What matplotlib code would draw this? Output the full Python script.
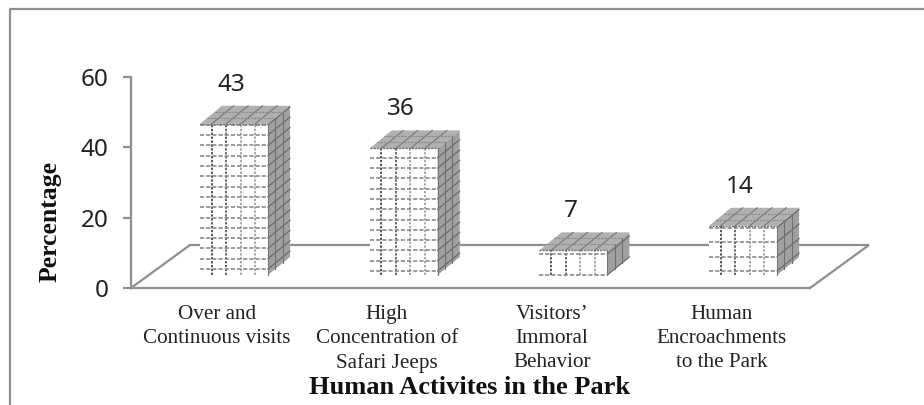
"""Human activities in the park: pseudo-3D column chart."""

import matplotlib

matplotlib.use("Agg")
import matplotlib.pyplot as plt
import numpy as np

categories = [
    "Over and\nContinuous visits",
    "High\nConcentration of\nSafari Jeeps",
    "Visitors’\nImmoral\nBehavior",
    "Human\nEncroachments\nto the Park",
]
values = [43, 36, 7, 14]
y_ticks = [0, 20, 40, 60]
x_title = "Human Activites in the Park"
y_title = "Percentage"

W, H = 924, 405
AX_L, AX_R, AX_B, AX_T = 131, 810, 288, 77
STEP = 169.7
CENTER0 = 234
BAR_W = 68
GRAY = "#8f8f8f"

PX_X = 1 / STEP
PX_Y = 60 / (AX_B - AX_T)

fig = plt.figure(figsize=(W / 100, H / 100), dpi=100)
ax = fig.add_axes([AX_L / W, 1 - AX_B / H, (AX_R - AX_L) / W, (AX_B - AX_T) / H])
ax.set_xlim((AX_L - CENTER0) * PX_X, (AX_R - CENTER0) * PX_X)
ax.set_ylim(0, 60)

for side in ["top", "right"]:
    ax.spines[side].set_visible(False)
for side in ["left", "bottom"]:
    ax.spines[side].set_color(GRAY)
    ax.spines[side].set_linewidth(1.6)

# floor of the 3D box
x0, x1 = ax.get_xlim()
fdx, fdy = 59 * PX_X, 43 * PX_Y
ax.plot([x0, x0 + fdx, x1 + fdx, x1], [0, fdy, fdy, 0], color=GRAY, lw=1.6,
        clip_on=False, zorder=1, solid_joinstyle="miter")

# columns
xs = np.arange(len(values))
base = 13 * PX_Y
bw = BAR_W * PX_X
dx, dy = 22 * PX_X, 18 * PX_Y
row_gaps = [10.3, 10.3, 21, 14.5]
col_colors = ["#555555", "#666666", "#a8a8a8", "#a8a8a8"]
row_starts = [6, 4, 0, 4]

ax.bar(xs, values, bw, bottom=base, color="white", linewidth=0, zorder=3)

for x, v, gap, start in zip(xs, values, row_gaps, row_starts):
    left, right = x - bw / 2, x + bw / 2
    bottom, top = base, base + v
    ax.fill([right, right + dx, right + dx, right],
            [bottom, bottom + dy, top + dy, top],
            color="#a0a0a0", lw=0, zorder=3, clip_on=False)
    ax.fill([left, left + dx, right + dx, right],
            [top, top + dy, top + dy, top],
            color="#b0b0b0", lw=0, zorder=3, clip_on=False)

    # front face pattern
    for i, c in enumerate(col_colors):
        cx = left + (11.7 + 14.5 * i) * PX_X
        ax.plot([cx, cx], [bottom, top], color=c, lw=1.4, ls=(0, (1.2, 0.8)), zorder=4)
        ax.plot([cx, cx + dx], [top, top + dy], color="#777777", lw=0.8, zorder=4,
                clip_on=False)
    rows = np.arange(start, v / PX_Y, gap) * PX_Y + bottom
    for ry in rows:
        ax.plot([left, right], [ry, ry], color="#8a8a8a", lw=1.2,
                ls=(0, (2.5, 1.2)), zorder=4)
        ax.plot([right, right + dx], [ry, ry + dy], color="#666666", lw=0.8, zorder=4,
                clip_on=False)
    for f in [1 / 3, 2 / 3]:
        ax.plot([right + f * dx] * 2, [bottom + f * dy, top + f * dy], color="#707070",
                lw=0.8, zorder=4, clip_on=False)
    for f in [1 / 3, 2 / 3]:
        ax.plot([left + f * dx, right + f * dx], [top + f * dy] * 2, color="#8a8a8a",
                lw=0.8, ls=(0, (2, 1)), zorder=4, clip_on=False)
    ax.plot([left, right], [top, top], color="#6f6f6f", lw=1, ls=(0, (1.5, 0.8)), zorder=5)
    ax.plot([right, right], [bottom, top], color="#777777", lw=0.8, zorder=5)

    ax.annotate(str(v), (x, top + dy), xytext=(-3, 9), textcoords="offset pixels",
                ha="center", va="bottom", fontsize=17.5, family="Noto Sans",
                color="#222222", annotation_clip=False)

ax.set_yticks(y_ticks)
ax.set_yticklabels([str(t) for t in y_ticks], family="Noto Sans", fontsize=17.5, color="#222222")
ax.tick_params(axis="y", length=6, width=1.6, color=GRAY, pad=10)
ax.set_xticks([])

label_x = [217, 387, 552, 722]
for px, label in zip(label_x, categories):
    fig.text(px / W, 1 - 305 / H, label, ha="center", va="top", family="Liberation Serif",
             fontsize=15.2, linespacing=1.36, color="#222222")

fig.text(470 / W, 1 - 387 / H, x_title, ha="center", va="center", family="Liberation Serif",
         fontsize=19, fontweight="bold", color="#111111")
fig.text(50 / W, 1 - 221 / H, y_title, ha="center", va="center", rotation=90,
         family="Liberation Serif", fontsize=18.5, fontweight="bold", color="#111111")

# outer frame, open on the right and at the bottom
fig.add_artist(plt.Line2D([10 / W, 10 / W, 1], [0, 1 - 9 / H, 1 - 9 / H], color=GRAY, lw=1.6))

fig.savefig("out.png", dpi=100)
